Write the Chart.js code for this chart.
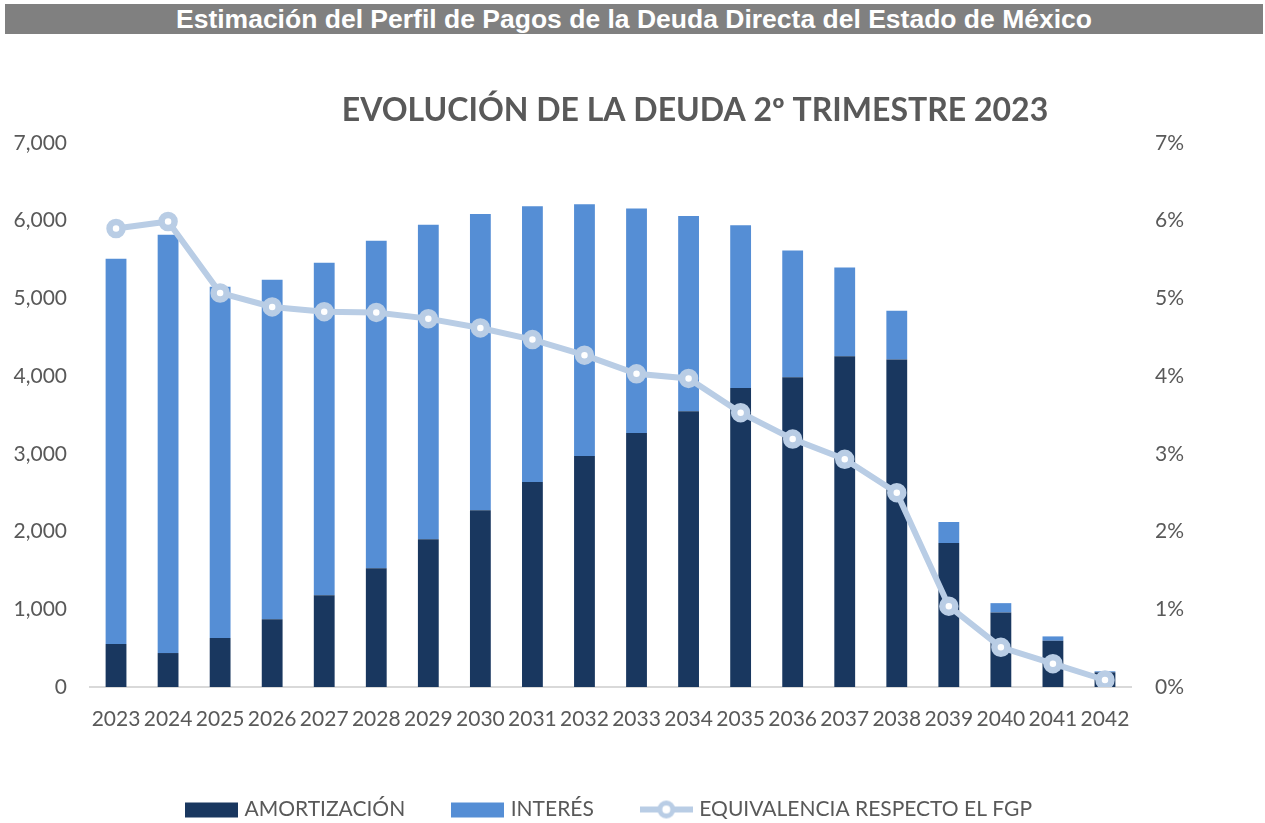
<!DOCTYPE html>
<html>
<head>
<meta charset="utf-8">
<script src="https://cdn.jsdelivr.net/npm/chart.js@4"></script>
<style>
  html, body { margin: 0; padding: 0; background: #fff; overflow: hidden; }
  #header {
    position: absolute; left: 5px; top: 4px; width: 1258px; height: 30px;
    background: #808080; color: #fff;
    font: bold 26.5px "Liberation Sans", Arial, sans-serif;
    text-align: center; line-height: 30px;
  }
  #wrap { position: absolute; left: 0; top: 0; width: 1265px; height: 830px; }
</style>
</head>
<body>
<div id="wrap"><canvas id="grafica"></canvas></div>
<div id="header">Estimación del Perfil de Pagos de la Deuda Directa del Estado de México</div>
<script>
// datos (millones de pesos / % del FGP)
const anios = ['2023','2024','2025','2026','2027','2028','2029','2030','2031','2032',
               '2033','2034','2035','2036','2037','2038','2039','2040','2041','2042'];
const amortizacion = [552, 437, 629, 873, 1182, 1528, 1901, 2273, 2637, 2971,
                      3267, 3549, 3849, 3986, 4255, 4213, 1853, 959, 595, 189];
const interes = [4958, 5381, 4521, 4367, 4277, 4213, 4046, 3815, 3550, 3241,
                 2889, 2513, 2093, 1631, 1143, 629, 270, 120, 56, 13];
const equivalencia = [5.90, 5.99, 5.07, 4.89, 4.83, 4.82, 4.74, 4.62, 4.47, 4.27,
                      4.03, 3.97, 3.53, 3.19, 2.93, 2.50, 1.04, 0.51, 0.30, 0.09];

const titulo = 'EVOLUCIÓN DE LA DEUDA 2º TRIMESTRE 2023';
const colorAmort = '#19375f';
const colorInteres = '#558ed5';
const colorLinea = '#b9cde5';
const gris = '#595959';

// iconos de la leyenda
function icono(tipo, color) {
  const c = document.createElement('canvas');
  c.width = 53; c.height = 20;
  const g = c.getContext('2d');
  if (tipo === 'barra') {
    g.fillStyle = color;
    g.fillRect(0, 3, 53, 15);
  } else {
    g.strokeStyle = color; g.lineWidth = 6;
    g.beginPath(); g.moveTo(0, 10); g.lineTo(53, 10); g.stroke();
    g.fillStyle = '#fff'; g.lineWidth = 5;
    g.beginPath(); g.arc(26.5, 10, 6.5, 0, Math.PI * 2); g.fill(); g.stroke();
  }
  return c;
}

// el título no va centrado en el lienzo, se dibuja aparte
const tituloPlugin = {
  id: 'tituloDesplazado',
  afterDraw(chart) {
    const g = chart.ctx;
    g.save();
    g.font = 'bold 32px Lato';
    g.fillStyle = gris;
    g.textAlign = 'center';
    g.textBaseline = 'middle';
    g.fillText(titulo, 695, 111);
    g.restore();
  }
};

const ctx = document.getElementById('grafica');
new Chart(ctx, {
  type: 'bar',
  data: {
    labels: anios,
    datasets: [
      { label: 'AMORTIZACIÓN', data: amortizacion, backgroundColor: colorAmort,
        yAxisID: 'y', order: 2, categoryPercentage: 1, barPercentage: 0.4,
        pointStyle: icono('barra', colorAmort) },
      { label: 'INTERÉS', data: interes, backgroundColor: colorInteres,
        yAxisID: 'y', order: 2, categoryPercentage: 1, barPercentage: 0.4,
        pointStyle: icono('barra', colorInteres) },
      { type: 'line', label: 'EQUIVALENCIA RESPECTO EL FGP', data: equivalencia,
        yAxisID: 'y2', order: 1, borderColor: colorLinea, borderWidth: 6,
        pointRadius: 6.5, pointBorderWidth: 6.5, pointBackgroundColor: '#fff',
        pointBorderColor: colorLinea, pointHoverRadius: 6.5, tension: 0,
        pointStyle: 'circle' }
    ]
  },
  options: {
    responsive: true,
    maintainAspectRatio: false,
    animation: false,
    layout: { padding: { top: 143, bottom: 0, left: 0, right: 44 } },
    plugins: {
      title: { display: false },
      legend: {
        position: 'bottom',
        labels: {
          usePointStyle: true,
          pointStyleWidth: 45,
          padding: 50,
          color: gris,
          font: { family: 'Lato', size: 21 },
          generateLabels(chart) {
            return chart.data.datasets.map((ds, i) => ({
              text: ds.label,
              fillStyle: ds.backgroundColor,
              strokeStyle: 'transparent',
              lineWidth: 0,
              fontColor: gris,
              pointStyle: i < 2 ? ds.pointStyle : icono('linea', colorLinea),
              datasetIndex: i
            }));
          }
        }
      },
      tooltip: { enabled: false }
    },
    scales: {
      x: {
        stacked: true,
        grid: { display: false, drawTicks: false },
        border: { display: true, color: '#d9d9d9', width: 2 },
        ticks: { color: gris, font: { family: 'Lato', size: 21 }, padding: 20, maxRotation: 0 },
        afterFit(s) { s.height = 62; }
      },
      y: {
        stacked: true, min: 0, max: 7000,
        grid: { display: false, drawTicks: false },
        border: { display: false },
        ticks: { stepSize: 1000, color: gris, font: { family: 'Lato', size: 21 }, padding: 23,
                 callback: v => v.toLocaleString('en-US') },
        afterFit(s) { s.width = 90; }
      },
      y2: {
        position: 'right', min: 0, max: 7, stacked: false,
        grid: { display: false, drawTicks: false },
        border: { display: false },
        ticks: { stepSize: 1, color: gris, font: { family: 'Lato', size: 21 }, padding: 24,
                 callback: v => v + '%' },
        afterFit(s) { s.width = 90; }
      }
    }
  },
  plugins: [tituloPlugin]
});
</script>
</body>
</html>
